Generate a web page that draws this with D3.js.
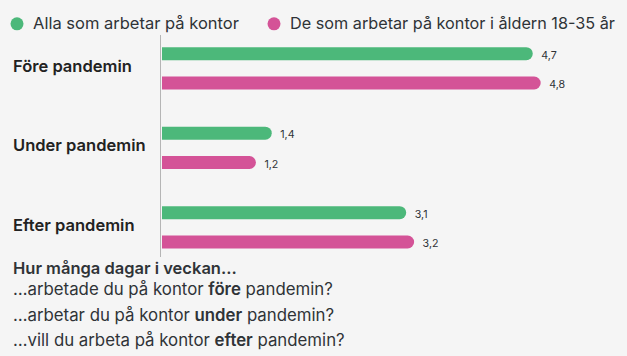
<!DOCTYPE html>
<html><head><meta charset="utf-8">
<script src="https://cdn.jsdelivr.net/npm/d3@7"></script>
<style>
html,body{margin:0;padding:0;background:#f5f5f5;}
svg{display:block;font-family:Inter,"Open Sans",sans-serif;}
</style></head>
<body><svg id="c" width="627" height="356"></svg>
<script>
const categories = ["Före pandemin","Under pandemin","Efter pandemin"];
const seriesNames = ["Alla som arbetar på kontor","De som arbetar på kontor i åldern 18-35 år"];
const seriesAll = [4.7, 1.4, 3.1];
const seriesYoung = [4.8, 1.2, 3.2];
const colors = ["#4cb87a","#d45397"];
const footerTitle = "Hur många dagar i veckan…";
const footerLines = [["…arbetade du på kontor ","före"," pandemin?"],["…arbetar du på kontor ","under"," pandemin?"],["…vill du arbeta på kontor ","efter"," pandemin?"]];

const svg = d3.select("#c");
const textColor = "#2f3337";

// fit a text's font-size so that its width matches a target
function fit(sel, target){
  const base = 16;
  sel.attr("font-size", base);
  const w = sel.node().getComputedTextLength();
  const s = base * target / w;
  sel.attr("font-size", s);
  return s;
}

const x = d3.scaleLinear().domain([0,5]).range([161,161+5*79.1]);
const yGroup = d3.scaleBand().domain(categories).range([40,40+3*79.5]);
const ySub = d3.scalePoint().domain([0,1]).range([13.7,43]);
const barH = 13;

// legend
const legX = [17, 274];
const legW = [206, 325];
seriesNames.forEach((n,i)=>{
  svg.append("circle").attr("cx",legX[i]).attr("cy",23.8).attr("r",6.5).attr("fill",colors[i]);
  const t = svg.append("text").attr("x",legX[i]+16).attr("y",29.3).attr("fill",textColor).text(n);
  fit(t, legW[i]);
});

// axis line
svg.append("line").attr("x1",160.5).attr("x2",160.5).attr("y1",35).attr("y2",257).attr("stroke","#b5b5b5").attr("stroke-width",1);

function barPath(x0,x1,yc,h){
  const r=h/2;
  return `M${x0},${yc-r}H${x1-r}A${r},${r} 0 0 1 ${x1-r},${yc+r}H${x0}Z`;
}

const series=[seriesAll,seriesYoung];
let valSize = null, catSize = null;
categories.forEach((c,ci)=>{
  const g0 = yGroup(c);
  series.forEach((s,si)=>{
    const yc = g0 + ySub(si);
    svg.append("path").attr("d",barPath(x(0)+1,x(s[ci]),yc,barH)).attr("fill",colors[si]);
    const t = svg.append("text").attr("x",x(s[ci])+8.5).attr("y",yc+5).attr("fill",textColor)
      .text(d3.format(".1f")(s[ci]).replace(".",","));
    if(valSize===null) valSize = fit(t, 15.5); else t.attr("font-size", valSize);
  });
  const gc = g0 + (ySub(0)+ySub(1))/2;
  const t = svg.append("text").attr("x",13).attr("y",gc+3.5).attr("font-weight",600).attr("fill","#222").text(c);
  if(catSize===null) catSize = fit(t, 119); else t.attr("font-size", catSize);
});

// footer
const ft = svg.append("text").attr("x",13).attr("y",273.5).attr("font-weight",600).attr("fill",textColor).text(footerTitle);
fit(ft, 224);
let lineSize=null;
footerLines.forEach((l,i)=>{
  const t = svg.append("text").attr("x",13).attr("y",295.3+i*25.3).attr("fill",textColor);
  t.append("tspan").text(l[0]);
  t.append("tspan").attr("font-weight",600).text(l[1]);
  t.append("tspan").text(l[2]);
  if(lineSize===null) lineSize = fit(t, 320); else t.attr("font-size", lineSize);
});
</script></body></html>
